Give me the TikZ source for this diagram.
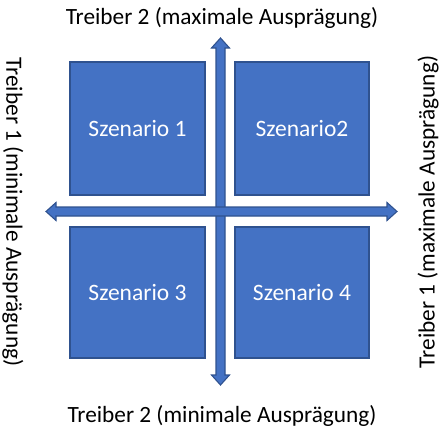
\documentclass[tikz,border=0pt]{standalone}
\usepackage{fontspec}
\setmainfont{Carlito}
\definecolor{boxfill}{HTML}{4472C4}
\definecolor{boxline}{HTML}{2F528F}
\begin{document}
\begin{tikzpicture}[x=1pt,y=-1pt,
  scen/.style={draw=boxline,fill=boxfill,line width=1.3pt,text=white,font=\fontsize{23.5}{27}\selectfont,inner sep=0pt},
  arr/.style={draw=boxline,fill=boxfill,line width=1.1pt,line join=miter},
  lbl/.style={font=\fontsize{23.3}{27}\selectfont,text=black,inner sep=0pt}]
\useasboundingbox (0,0) rectangle (440,434);
% boxes
\node[scen,minimum width=135pt,minimum height=133pt] (s1) at (137.5,128.5) {Szenario 1};
\node[scen,minimum width=134pt,minimum height=133pt] (s2) at (302,128.5) {Szenario2};
\node[scen,minimum width=135pt,minimum height=131pt] (s3) at (137.5,292.5) {Szenario 3};
\node[scen,minimum width=134pt,minimum height=131pt] (s4) at (302,292.5) {Szenario 4};
% vertical double arrow
\draw[arr] (220.5,38) -- (229.5,48) -- (225,48) -- (225,375) -- (229.5,375) -- (220.5,385)
  -- (211.5,375) -- (216,375) -- (216,48) -- (211.5,48) -- cycle;
% horizontal double arrow
\draw[arr] (46,211.5) -- (56,202.5) -- (56,207) -- (387,207) -- (387,202.5) -- (397,211.5)
  -- (387,220.5) -- (387,216) -- (56,216) -- (56,220.5) -- cycle;
% labels
\node[lbl] (top) at (222,18) {Treiber 2 (maximale Ausprägung)};
\node[lbl] (bot) at (222,416) {Treiber 2 (minimale Ausprägung)};
\node[lbl,rotate=-90] (left) at (13,212) {Treiber 1 (minimale Ausprägung)};
\node[lbl,rotate=90] (right) at (428,212) {Treiber 1 (maximale Ausprägung)};
\end{tikzpicture}
\end{document}
